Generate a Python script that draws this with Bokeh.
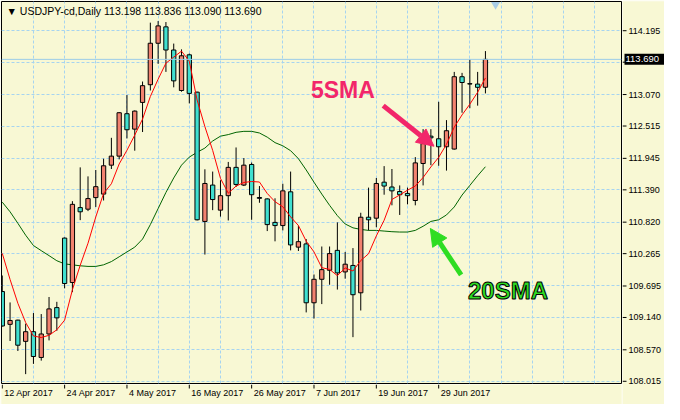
from bokeh.plotting import figure
from bokeh.layouts import column, row
from bokeh.models import Range1d, FixedTicker, Label, Span, Arrow, NormalHead, ColumnDataSource
from bokeh.core.properties import value
from bokeh.embed import file_html
from bokeh.resources import INLINE

symbol = "USDJPY-cd"
period = "Daily"

dates = ["12 Apr 2017", "13 Apr 2017", "14 Apr 2017", "17 Apr 2017", "18 Apr 2017", "19 Apr 2017", "20 Apr 2017", "21 Apr 2017",
         "24 Apr 2017", "25 Apr 2017", "26 Apr 2017", "27 Apr 2017", "28 Apr 2017", "1 May 2017", "2 May 2017", "3 May 2017",
         "4 May 2017", "5 May 2017", "8 May 2017", "9 May 2017", "10 May 2017", "11 May 2017", "12 May 2017", "15 May 2017",
         "16 May 2017", "17 May 2017", "18 May 2017", "19 May 2017", "22 May 2017", "23 May 2017", "24 May 2017", "25 May 2017",
         "26 May 2017", "29 May 2017", "30 May 2017", "31 May 2017", "1 Jun 2017", "2 Jun 2017", "5 Jun 2017", "6 Jun 2017",
         "7 Jun 2017", "8 Jun 2017", "9 Jun 2017", "12 Jun 2017", "13 Jun 2017", "14 Jun 2017", "15 Jun 2017", "16 Jun 2017",
         "19 Jun 2017", "20 Jun 2017", "21 Jun 2017", "22 Jun 2017", "23 Jun 2017", "26 Jun 2017", "27 Jun 2017", "28 Jun 2017",
         "29 Jun 2017", "30 Jun 2017", "3 Jul 2017", "4 Jul 2017", "5 Jul 2017", "6 Jul 2017", "7 Jul 2017"]

opens = [109.597, 109.019, 109.093, 108.719, 108.889, 108.435, 108.849, 109.314, 110.539, 109.756,
         111.077, 111.049, 111.253, 111.315, 111.825, 111.984, 112.732, 112.460, 112.931, 113.243,
         113.974, 114.263, 113.855, 113.141, 113.770, 113.112, 110.833, 111.474, 111.032, 111.287,
         111.786, 111.474, 111.837, 111.255, 111.230, 110.816, 110.760, 111.355, 110.380, 110.437,
         109.399, 109.813, 109.972, 110.323, 109.943, 110.057, 109.575, 110.907, 110.890, 111.525,
         111.440, 111.361, 111.327, 111.202, 111.854, 112.336, 112.290, 112.149, 112.109, 113.384,
         113.262, 113.254, 113.198]
highs = [109.880, 109.405, 109.100, 109.031, 109.218, 109.200, 109.501, 109.416, 110.550, 111.190,
         111.786, 111.627, 111.740, 111.939, 112.307, 112.760, 113.061, 112.790, 113.299, 114.337,
         114.365, 114.348, 113.968, 113.866, 113.792, 113.120, 111.752, 111.712, 111.559, 111.882,
         112.137, 111.950, 111.871, 111.457, 111.240, 111.241, 111.497, 111.712, 110.760, 110.522,
         109.898, 110.391, 110.391, 110.816, 110.295, 110.363, 110.986, 111.429, 111.599, 111.808,
         111.757, 111.468, 111.429, 111.967, 112.460, 112.460, 112.942, 112.619, 113.469, 113.452,
         113.690, 113.469, 113.836]
lows = [108.980, 108.725, 108.549, 108.141, 108.322, 108.379, 108.736, 108.906, 109.654, 109.586,
        110.856, 111.015, 111.088, 111.202, 111.757, 111.927, 112.296, 112.080, 112.409, 113.141,
        113.611, 113.469, 113.197, 113.120, 112.914, 110.850, 110.249, 111.032, 110.918, 110.850,
        111.440, 111.457, 110.862, 111.162, 110.663, 110.482, 110.675, 110.323, 110.312, 109.229,
        109.121, 109.376, 109.717, 109.632, 109.824, 108.793, 109.263, 110.675, 110.731, 111.304,
        111.117, 110.947, 111.134, 111.117, 111.468, 111.825, 111.814, 111.729, 112.100, 112.749,
        112.829, 112.874, 113.090]
closes = [108.990, 109.087, 108.651, 108.889, 108.452, 108.849, 109.291, 109.133, 109.739, 111.134,
          111.003, 111.236, 111.446, 111.814, 111.984, 112.749, 112.449, 112.778, 113.226, 113.974,
          114.280, 113.855, 113.311, 113.753, 113.090, 110.862, 111.502, 111.219, 111.287, 111.786,
          111.485, 111.825, 111.304, 111.240, 110.777, 110.760, 111.372, 110.419, 110.476, 109.399,
          109.813, 109.983, 110.266, 109.926, 110.079, 109.541, 110.907, 110.862, 111.502, 111.457,
          111.372, 111.304, 111.287, 111.865, 112.205, 112.307, 112.149, 112.432, 113.384, 113.282,
          113.255, 113.197, 113.690]

sma5 = [110.270, 109.810, 109.390, 109.050, 108.814, 108.786, 108.826, 108.923, 109.093, 109.629,
        110.060, 110.449, 110.912, 111.327, 111.497, 111.846, 112.088, 112.355, 112.637, 113.035,
        113.341, 113.623, 113.729, 113.835, 113.658, 112.974, 112.504, 112.085, 111.592, 111.331,
        111.456, 111.520, 111.537, 111.528, 111.326, 111.181, 111.091, 110.914, 110.761, 110.485,
        110.296, 110.018, 109.987, 109.877, 110.013, 109.959, 110.144, 110.263, 110.578, 110.854,
        111.220, 111.299, 111.384, 111.457, 111.607, 111.794, 111.963, 112.192, 112.495, 112.711,
        112.900, 113.110, 113.362]
sma20 = [111.173, 111.003, 110.800, 110.590, 110.408, 110.318, 110.230, 110.140, 110.085, 110.068,
         110.051, 110.040, 110.040, 110.068, 110.125, 110.210, 110.295, 110.380, 110.522, 110.777,
         111.060, 111.344, 111.599, 111.825, 111.967, 112.052, 112.126, 112.251, 112.336, 112.364,
         112.404, 112.421, 112.421, 112.392, 112.319, 112.222, 112.166, 112.080, 111.939, 111.740,
         111.525, 111.315, 111.117, 110.935, 110.788, 110.720, 110.692, 110.675, 110.675, 110.663,
         110.652, 110.646, 110.646, 110.675, 110.748, 110.833, 110.862, 110.947, 111.088, 111.298,
         111.468, 111.638, 111.797]

price_ticks = [108.015, 108.570, 109.140, 109.695, 110.265, 110.820, 111.390, 111.945, 112.515, 113.070, 113.640, 114.195]
hidden_price_tick = 113.640
date_step = 8
grid_step = 4
chart_shift_bar = 63.3

BG = "#F8F8D4"
GRID = "#A6D4F0"
BULL = "#F2826F"
BEAR = "#40E0D0"
PINK = "#F2266A"
GREEN = "#2EDD22"
FONT = "Liberation Sans"

xs = list(range(len(dates)))
src = ColumnDataSource(dict(
    x=xs, date=dates, open=opens, high=highs, low=lows, close=closes,
    top=[max(o, c) for o, c in zip(opens, closes)],
    bottom=[min(o, c) for o, c in zip(opens, closes)],
    color=[BULL if c >= o else BEAR for o, c in zip(opens, closes)],
    sma5=sma5, sma20=sma20,
))

xr = Range1d(-0.1, 79.46)
yr = Range1d(107.976, 114.71)

AXW = 42      # width of the price-axis strip
DATEH = 20    # height of the date-axis strip
W, H = 664, 404
MAIN_FRAME_H = H - DATEH - 2
px_per_price = (yr.end - yr.start) / MAIN_FRAME_H

# ---------------- main chart ----------------
p = figure(width=W - AXW, height=H - DATEH, x_range=xr, y_range=yr,
           x_axis_location=None, y_axis_location=None, output_backend="svg", toolbar_location=None,
           min_border_left=1, min_border_right=1, min_border_top=1, min_border_bottom=1)
p.background_fill_color = BG
p.border_fill_color = BG
p.outline_line_color = "black"
p.outline_line_width = 1

p.ygrid.ticker = FixedTicker(ticks=price_ticks)
p.xgrid.ticker = FixedTicker(ticks=list(range(grid_step, 80, grid_step)))
for g in (p.xgrid, p.ygrid):
    g.grid_line_color = GRID
    g.grid_line_dash = "3 2"
    g.grid_line_width = 1

p.add_layout(Span(location=closes[-1], dimension="width", line_color="#9CCDE8", line_width=1))

p.line("x", "sma20", source=src, line_color="#006400", line_width=1)
p.segment(x0="x", y0="low", x1="x", y1="high", source=src, line_color="black", line_width=1)
p.vbar(x="x", width=0.55, top="top", bottom="bottom", source=src, fill_color="color", line_color="black", line_width=1)
p.line("x", "sma5", source=src, line_color="#FF0000", line_width=1)

# chart-shift marker at the top edge
p.scatter(x=[chart_shift_bar], y=[yr.end - 3 * px_per_price], marker="inverted_triangle", size=9,
          fill_color="#A9CDE6", line_color=None)

header = f"\u25BC {symbol},{period}  {opens[-1]:.3f} {highs[-1]:.3f} {lows[-1]:.3f} {closes[-1]:.3f}"
p.add_layout(Label(x=xr.start, y=yr.end, x_offset=5, y_offset=-9, text=header,
                   text_align="left", text_baseline="middle", text_font=FONT, text_font_size="10.5px",
                   text_color="black"))

p.add_layout(Arrow(end=NormalHead(size=17, fill_color=PINK, line_color=PINK),
                   x_start=48.88, y_start=112.874, x_end=55.4, y_end=112.159,
                   line_color=PINK, line_width=5))
p.add_layout(Arrow(end=NormalHead(size=17, fill_color=GREEN, line_color=GREEN),
                   x_start=58.88, y_start=109.889, x_end=54.93, y_end=110.709,
                   line_color=GREEN, line_width=5))
p.add_layout(Label(x=43.7, y=113.158, text="5SMA", text_align="center", text_baseline="middle",
                   text_font=FONT, text_font_size="23px", text_font_style="bold", text_color=PINK))
p.add_layout(Label(x=64.9, y=109.613, text="20SMA", text_align="center", text_baseline="middle",
                   text_font=FONT, text_font_size="24px", text_font_style="bold",
                   text_color=GREEN, text_outline_color="black"))

# ---------------- price axis strip (right, full height) ----------------
ya = Range1d(yr.start - (H - 1 - MAIN_FRAME_H) * px_per_price, yr.end)
pa = figure(width=AXW, height=H, x_range=Range1d(0, AXW), y_range=ya,
            x_axis_location=None, y_axis_location=None, output_backend="svg", toolbar_location=None,
            min_border_left=0, min_border_right=0, min_border_top=1, min_border_bottom=0)
pa.background_fill_color = BG
pa.border_fill_color = BG
pa.outline_line_color = None
pa.xgrid.visible = False
pa.ygrid.visible = False
pa.segment(x0=0, x1=4, y0=price_ticks, y1=price_ticks, line_color="black", line_width=1)
shown = [t for t in price_ticks if t != hidden_price_tick]
pa.text(x=6, y=shown, text=[f"{t:.3f}" for t in shown], text_align="left", text_baseline="middle",
        text_font=value(FONT), text_font_size="9px", text_color="black")
pa.rect(x=AXW / 2 + 1, y=[closes[-1]], width=AXW - 2, height=11, height_units="screen",
        fill_color="black", line_color=None)
pa.text(x=3, y=[closes[-1]], text=[f"{closes[-1]:.3f}"], text_align="left", text_baseline="middle",
        text_font=value(FONT), text_font_size="9.5px", text_color="white")

# ---------------- date axis strip (bottom) ----------------
date_ticks = xs[::date_step]
date_tick_labels = dates[::date_step]
pd_ = figure(width=W - AXW, height=DATEH, x_range=xr, y_range=Range1d(-DATEH, 0),
             x_axis_location=None, y_axis_location=None, output_backend="svg", toolbar_location=None,
             min_border_left=1, min_border_right=1, min_border_top=0, min_border_bottom=0)
pd_.background_fill_color = BG
pd_.border_fill_color = BG
pd_.outline_line_color = None
pd_.xgrid.visible = False
pd_.ygrid.visible = False
pd_.segment(x0=date_ticks, x1=date_ticks, y0=0, y1=-4, line_color="black", line_width=1)
pd_.text(x=date_ticks, y=-8.5, text=date_tick_labels, x_offset=2, text_align="left", text_baseline="middle",
         text_font=value(FONT), text_font_size="9px", text_color="black")

layout = row(column(p, pd_, spacing=0), pa, spacing=0)
open("out.html", "w").write(file_html(layout, INLINE))
